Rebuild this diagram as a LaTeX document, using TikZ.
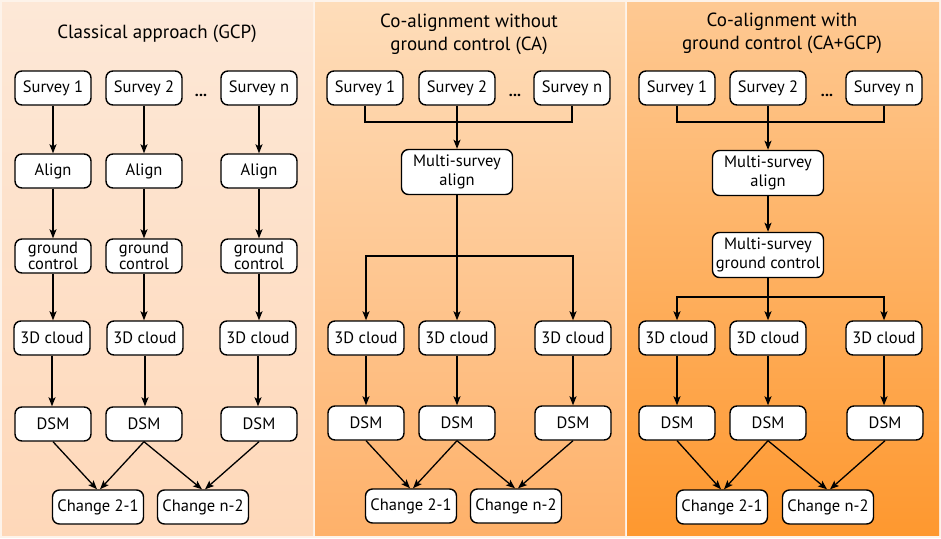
\documentclass[tikz,border=0pt]{standalone}
\usepackage{fontspec}
\setmainfont{PT Sans}
\usetikzlibrary{arrows.meta,calc}
\definecolor{bgc}{HTML}{FDF3EA}
\definecolor{pAt}{HTML}{FDE8D7}
\definecolor{pAb}{HTML}{FED8B9}
\definecolor{pBt}{HTML}{FEDDBA}
\definecolor{pBb}{HTML}{FEB16A}
\definecolor{pCt}{HTML}{FEC993}
\definecolor{pCb}{HTML}{FE982F}
\tikzset{
  box/.style={draw=black, fill=white, rounded corners=7pt, line width=1.4pt,
    align=center, inner sep=0pt, minimum height=34pt, minimum width=76pt,
    font=\fontsize{16.5}{16}\selectfont},
  wide/.style={minimum width=91pt},
  tall/.style={minimum width=111pt, minimum height=45pt,
    font=\fontsize{16.5}{19}\selectfont},
  tight/.style={font=\fontsize{16.5}{15}\selectfont},
  arr/.style={line width=1.3pt, -{Stealth[length=9pt,width=7pt,inset=2pt]}},
  ln/.style={line width=1.3pt},
  ttl/.style={align=center, font=\fontsize{19}{23}\selectfont},
  dots/.style={font=\fontsize{16}{16}\selectfont\bfseries}
}
\begin{document}
\begin{tikzpicture}[x=1pt,y=-1pt]
\useasboundingbox (0,0) rectangle (941,538);
\fill[bgc] (0,0) rectangle (941,538);
\shade[top color=pAt, bottom color=pAb] (2,2) rectangle (313,535);
\shade[top color=pBt, bottom color=pBb] (315,2) rectangle (625,535);
\shade[top color=pCt, bottom color=pCb] (627,2) rectangle (939,535);

% ---------- Panel 1 ----------
\node[ttl] (t1) at (157,34) {Classical approach (GCP)};
\node[box] (a1) at (53,88) {Survey 1};
\node[box] (a2) at (144,88) {Survey 2};
\node[box] (a3) at (259,88) {Survey n};
\node[dots] (ad) at (201,95) {...};
\node[box] (b1) at (53,171) {Align};
\node[box] (b2) at (144,171) {Align};
\node[box] (b3) at (259,171) {Align};
\node[box,tight] (g1) at (53,256) {ground\\control};
\node[box,tight] (g2) at (144,256) {ground\\control};
\node[box,tight] (g3) at (259,256) {ground\\control};
\node[box] (c1) at (52,338) {3D cloud};
\node[box] (c2) at (145,338) {3D cloud};
\node[box] (c3) at (258,338) {3D cloud};
\node[box] (d1) at (53,424) {DSM};
\node[box] (d2) at (144,424) {DSM};
\node[box] (d3) at (259,424) {DSM};
\node[box,wide] (e1) at (98,507) {Change 2-1};
\node[box,wide] (e2) at (203,507) {Change n-2};
\foreach \i in {1,2,3}{
  \draw[arr] (a\i) -- (b\i);
  \draw[arr] (b\i) -- (g\i);
  \draw[arr] (g\i.south) -- (g\i.south |- c\i.north);
  \draw[arr] (c\i.south) -- (c\i.south |- d\i.north);
}
\draw[arr] (d1.south) -- ($(e1.north)+(-1,0)$);
\draw[arr] (d2.south) -- ($(e1.north)+(2,0)$);
\draw[arr] (d2.south) -- ($(e2.north)+(-1,0)$);
\draw[arr] (d3.south) -- ($(e2.north)+(2,0)$);

% ---------- Panel 2 ----------
\node[ttl] (t2) at (469,34) {Co-alignment without\\ground control (CA)};
\node[box] (p1) at (365,88) {Survey 1};
\node[box] (p2) at (457,88) {Survey 2};
\node[box] (p3) at (572,88) {Survey n};
\node[dots] (pd) at (515,95) {...};
\coordinate (pb) at (457,122);
\node[box,tall] (pm) at (457,172) {Multi-survey\\align};
\coordinate (pb2) at (457,256);
\node[box] (q1) at (366,338) {3D cloud};
\node[box] (q2) at (457,338) {3D cloud};
\node[box] (q3) at (573,338) {3D cloud};
\node[box] (r1) at (366,423) {DSM};
\node[box] (r2) at (457,423) {DSM};
\node[box] (r3) at (573,423) {DSM};
\node[box,wide] (s1) at (411,506) {Change 2-1};
\node[box,wide] (s2) at (516,506) {Change n-2};
\draw[ln] (p1.south) |- (pb) -| (p3.south);
\draw[arr] (p2.south) -- (pm.north);
\draw[ln] (pm.south) -- (pb2);
\draw[arr] (pb2) -| (q1.north);
\draw[arr] (pb2) -| (q3.north);
\draw[arr] (pb2) -- (q2.north);
\foreach \i in {1,2,3}{ \draw[arr] (q\i) -- (r\i); }
\draw[arr] (r1.south) -- ($(s1.north)+(-1,0)$);
\draw[arr] (r2.south) -- ($(s1.north)+(2,0)$);
\draw[arr] (r2.south) -- ($(s2.north)+(-1,0)$);
\draw[arr] (r3.south) -- ($(s2.north)+(2,0)$);

% ---------- Panel 3 ----------
\node[ttl] (t3) at (782,33) {Co-alignment with\\ground control (CA+GCP)};
\node[box] (u1) at (677,88) {Survey 1};
\node[box] (u2) at (768,88) {Survey 2};
\node[box] (u3) at (884,88) {Survey n};
\node[dots] (ud) at (827,95) {...};
\coordinate (ub) at (768,122);
\node[box,tall] (um) at (768,173) {Multi-survey\\align};
\node[box,tall] (ug) at (768,255) {Multi-survey\\ground control};
\coordinate (ub2) at (768,297);
\node[box] (v1) at (677,338) {3D cloud};
\node[box] (v2) at (768,338) {3D cloud};
\node[box] (v3) at (884,338) {3D cloud};
\node[box] (w1) at (677,423) {DSM};
\node[box] (w2) at (768,423) {DSM};
\node[box] (w3) at (885,423) {DSM};
\node[box,wide] (z1) at (722,507) {Change 2-1};
\node[box,wide] (z2) at (828,507) {Change n-2};
\draw[ln] (u1.south) |- (ub) -| (u3.south);
\draw[arr] (u2.south) -- (um.north);
\draw[arr] (um) -- (ug);
\draw[ln] (ug.south) -- (ub2);
\draw[arr] (ub2) -| (v1.north);
\draw[arr] (ub2) -| (v3.north);
\draw[arr] (ub2) -- (v2.north);
\foreach \i in {1,2}{ \draw[arr] (v\i) -- (w\i); }
\draw[arr] (v3.south) -- (v3.south |- w3.north);
\draw[arr] (w1.south) -- ($(z1.north)+(-1,0)$);
\draw[arr] (w2.south) -- ($(z1.north)+(2,0)$);
\draw[arr] (w2.south) -- ($(z2.north)+(-1,0)$);
\draw[arr] (w3.south) -- ($(z2.north)+(2,0)$);
\end{tikzpicture}
\end{document}
